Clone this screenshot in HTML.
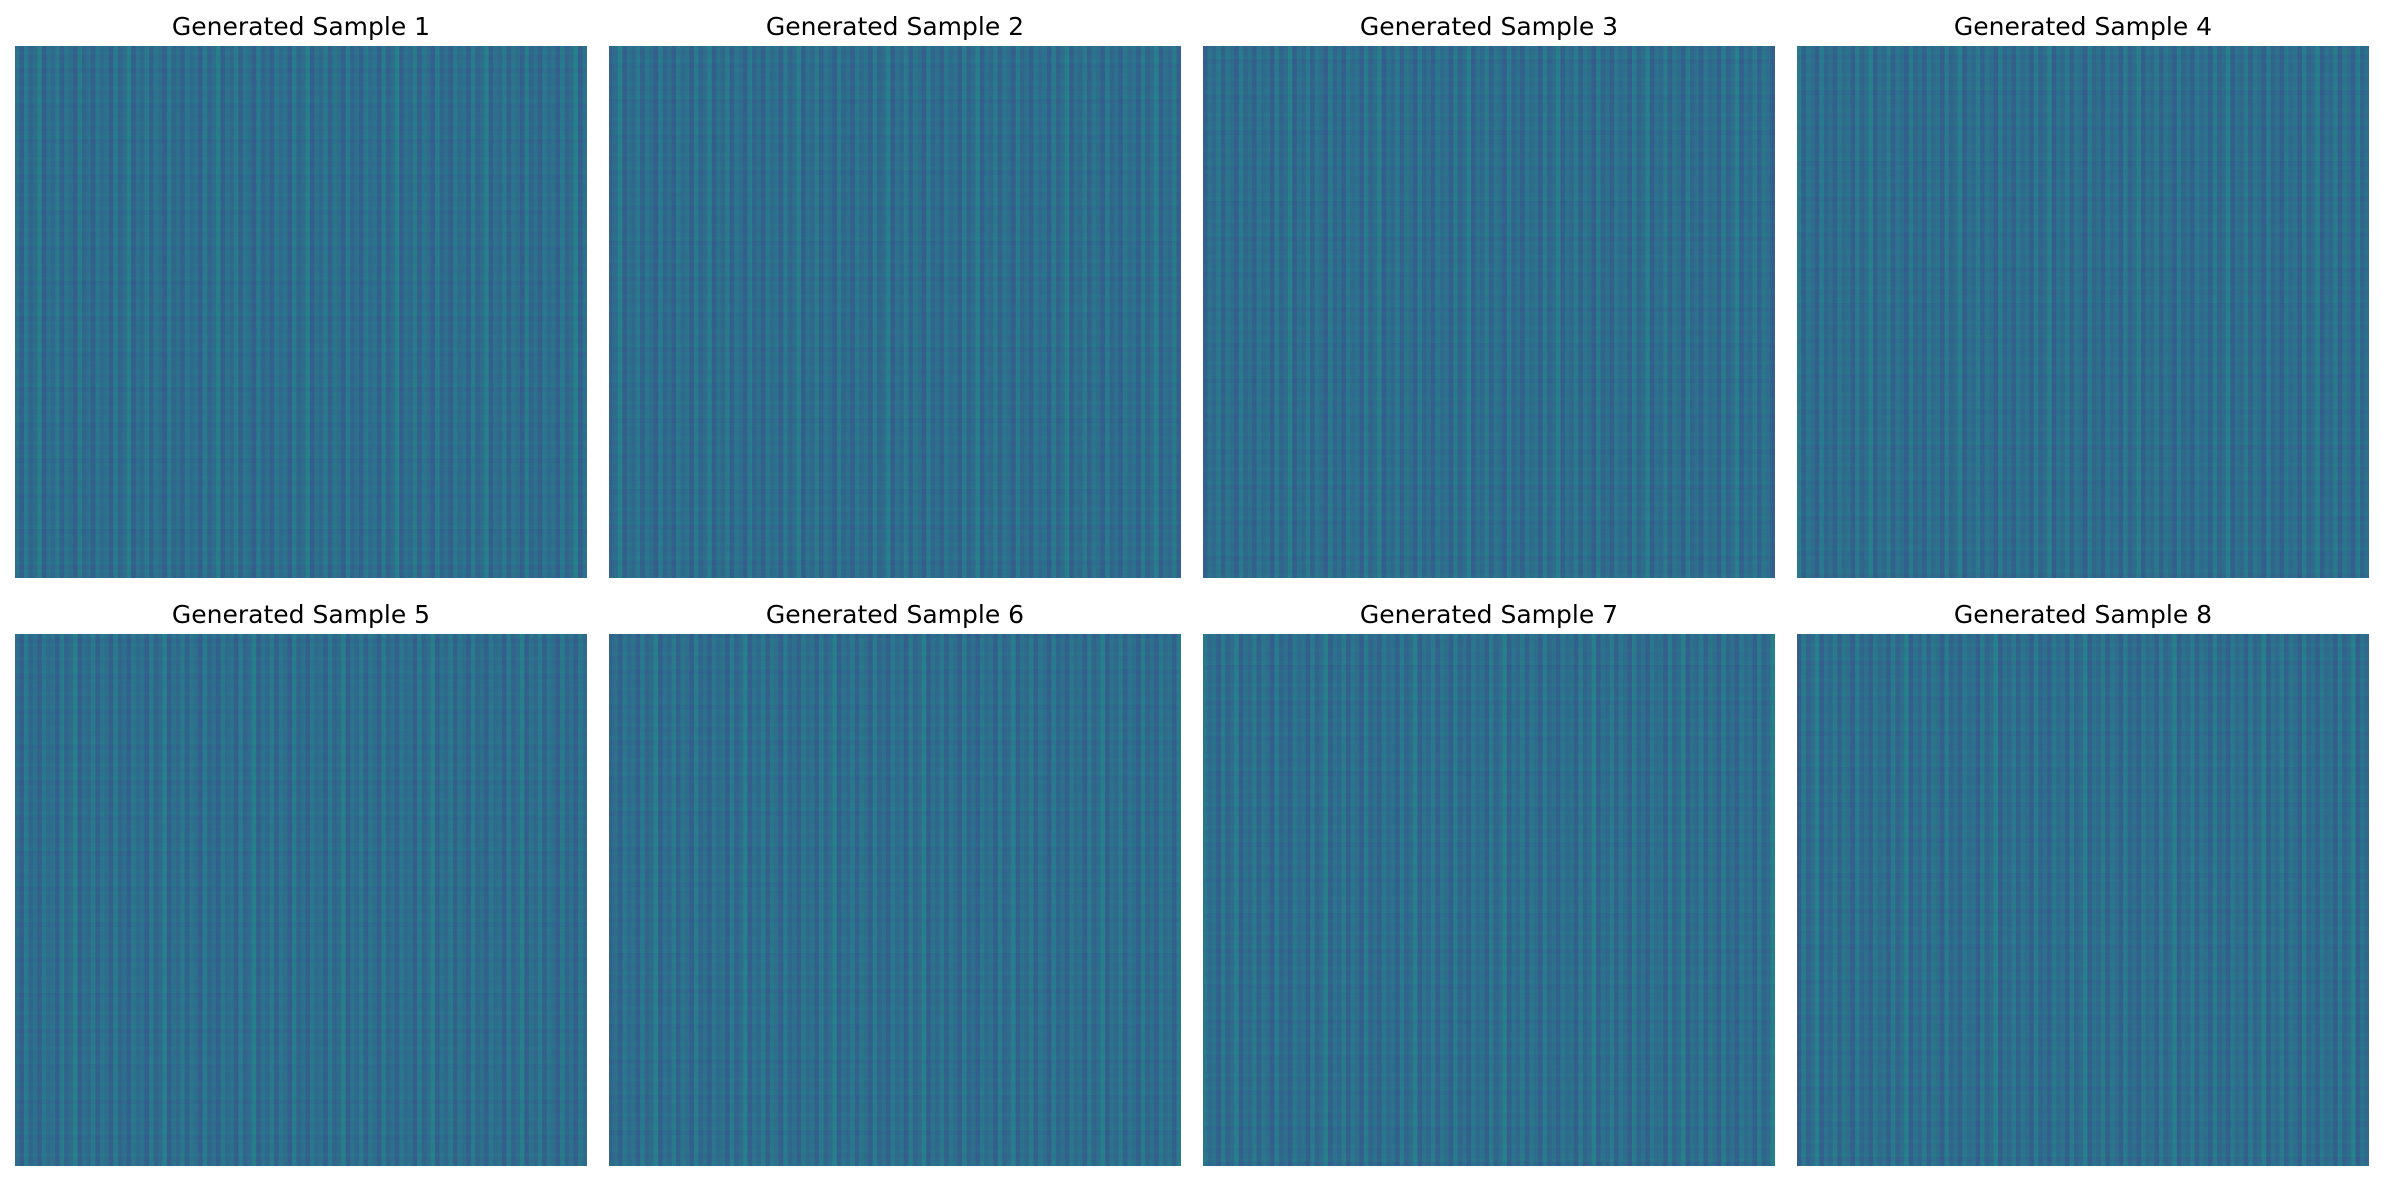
<!DOCTYPE html>
<html><head><meta charset="utf-8"><style>
html,body{margin:0;padding:0;background:#fff;}
body{width:2385px;height:1182px;position:relative;overflow:hidden;font-family:"DejaVu Sans","Liberation Sans",sans-serif;}
.title{position:absolute;width:572px;text-align:center;font-size:25px;color:#000;}
svg{position:absolute;}
</style></head><body>
<div id="root"></div>
<script>
const sampleTitles=["Generated Sample 1","Generated Sample 2","Generated Sample 3","Generated Sample 4","Generated Sample 5","Generated Sample 6","Generated Sample 7","Generated Sample 8"];
const columnValues=[0.4,0.26,0.46,0.3,0.36,0.5,0.26,0.4,0.33,0.45,0.28,0.42,0.37,0.26,0.47,0.31,0.39,0.27,0.44,0.35];
const rowValues=[0.35,0.4,0.33,0.37,0.42,0.31,0.38,0.35];
const nCols=128, nRows=120;
const panelX=[15,609,1203,1797], panelY=[46,634], W=572, H=532;
function viridis(t){
  const stops=[[68,1,84],[59,82,139],[33,145,140],[94,201,98],[253,231,37]];
  const s=t*4, i=Math.min(3,Math.floor(s)), f=s-i;
  const a=stops[i], b=stops[i+1];
  return `rgb(${a.map((v,k)=>Math.round(v+(b[k]-v)*f)).join(',')})`;
}
const root=document.getElementById('root');
sampleTitles.forEach((t,idx)=>{
  const x=panelX[idx%4], y=panelY[Math.floor(idx/4)];
  const d=document.createElement('div');
  d.className='title';
  d.style.left=x+'px'; d.style.top=(y-34)+'px';
  d.textContent=t;
  
  
  root.appendChild(d);
  const svg=document.createElementNS('http://www.w3.org/2000/svg','svg');
  
  
  svg.setAttribute('width',W);svg.setAttribute('height',H);
  svg.style.left=x+'px';svg.style.top=y+'px';
  let html=`<rect width="${W}" height="${H}" fill="#2d6a8e"/>`;
  const cw=W/nCols;
  for(let c=0;c<nCols;c++){
    const v=columnValues[(c+idx*3)%columnValues.length];
    html+=`<rect x="${c*cw}" y="0" width="${cw}" height="${H}" fill="${viridis(v)}" opacity="0.7"/>`;
  }
  const rh=H/nRows;
  for(let r=0;r<nRows;r++){
    const v=rowValues[(r+idx)%rowValues.length];
    html+=`<rect x="0" y="${r*rh}" width="${W}" height="${rh}" fill="${viridis(v)}" opacity="0.25"/>`;
  }
  svg.innerHTML=html;
  root.appendChild(svg);
});
</script>
</body></html>
